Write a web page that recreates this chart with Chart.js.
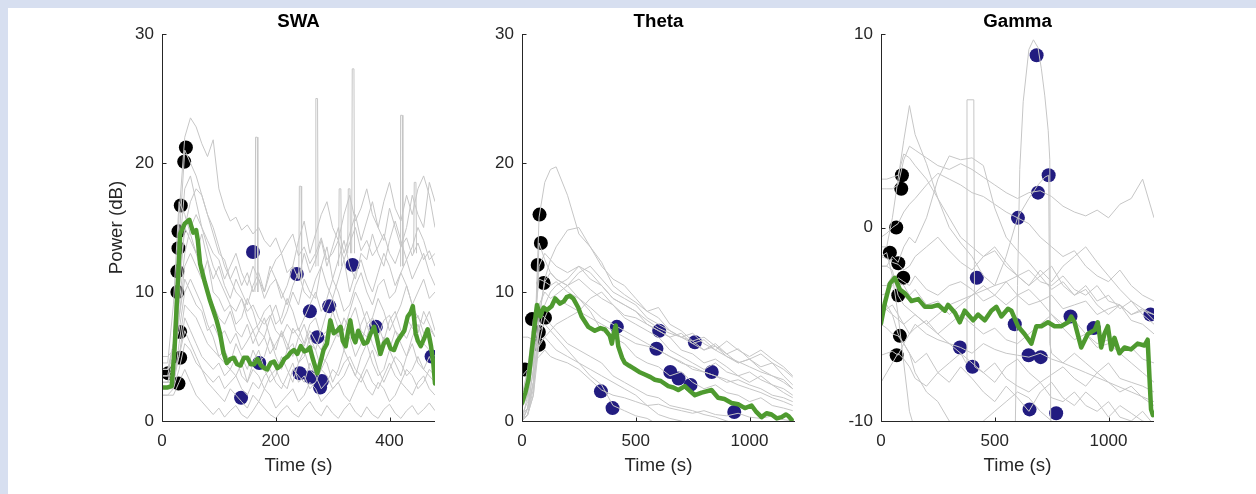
<!DOCTYPE html>
<html>
<head>
<meta charset="utf-8">
<script src="https://cdn.jsdelivr.net/npm/chart.js@4.4.0/dist/chart.umd.min.js"></script>
<style>
html,body{margin:0;padding:0;width:1256px;height:494px;overflow:hidden;background:#d7dff0;}
#panel{position:absolute;left:8px;top:8px;width:1248px;height:486px;background:#ffffff;}
canvas{position:absolute;top:0;}
</style>
</head>
<body>
<div id="panel"></div>
<canvas id="c1" width="360" height="494" style="left:92px"></canvas>
<canvas id="c2" width="360" height="494" style="left:452px"></canvas>
<canvas id="c3" width="360" height="494" style="left:811px"></canvas>
<script>
// ---------------- SWA ----------------
const swaXTicks = [0, 200, 400];
const swaYTicks = [0, 10, 20, 30];
const swaTimes = [0,10,20,30,40,50,60,70,80,90,100,110,120,130,140,150,160,170,180,190,200,210,220,230,240,250,260,270,280,290,300,310,320,330,340,350,360,370,380,390,400,410,420,430,440,450,460,470,480];
const swaG1 = [3.5,3.5,6,16,22,23.5,22.8,21.5,20.5,21.8,18,16.5,15.5,15.8,14.8,15.2,14.5,15,14,13.5,14.2,13,13.8,14.5,12.8,13.5,12.2,13,14.2,12.5,13,14,12.5,13.8,15,13.2,14,12.8,13.5,14.5,13,12.2,13.5,14.2,12.8,13.8,12.5,13.2,12];
const swaG2 = [3,3,5,14,21,20,19,17.5,16,15,13.5,12,11,10,9.5,8.5,9,8,7.5,8.2,7,6.5,7.5,6.8,7.2,6,7.5,8,6.5,7,8.5,7.2,6,7.8,8.8,7,6.5,8,7.4,6.2,7.8,8.5,7,6.4,7.5,8.2,6.8,7.2,6.5];
const swaG3 = [4,4,5,11,15,14,13,14.5,12.5,11,12,10.5,9.5,11,10,9,10.5,11.5,10,12,11,9.5,10.5,12,11,13,11.5,12.5,14,12,13.5,15,13,14.5,16,14,15.5,17,15,14,16.5,15,13.5,15,17.5,16,15,18.5,17];
const swaG4 = [2,2,2.5,6,9,8.5,8,7,6,5.5,5,4.5,4,3.5,4.5,3,4,3.5,2.5,3.5,4,3,2.5,4,3.5,3,4.5,3.5,2.5,3,4,3.5,4.5,5,4,3.5,4.5,5.5,4,3,4,5,4.5,3.5,4,5,4,3.5,3];
const swaG5 = [3,3,3,5,7,6,5,4,3,2.5,2,1.5,2.5,2,1.5,1,2,1.5,2.5,2,1,1.5,2,2.5,1.5,2,3,2.5,1.5,2,2.5,3,2,1.5,2.5,3.5,2.5,2,3,2.5,1.5,2,3,2.5,2,3,3.5,2.5,2];
const swaG6 = [4.5,4.5,9,17,16,14.5,13,11.5,10,9,8,7.5,8.5,7,6.5,7.5,6,7,8,6.5,5.5,7,6,5,6.5,7.5,6,5.5,7,8.5,9.5,8,7,8.5,10,9,7.5,8,9.5,8.5,7,8,9,10.5,9,8,7.5,8.5,7];
const swaG7 = [3,3,4,8,12,13,12,11,12.5,10,9.5,8.5,9,7.5,8,9.5,8.5,7,6.5,8,9,7.5,8.5,10,9,11,10,9.5,12,13.5,11,12.5,14,12,11,13,12.5,14.5,13,12,14,15.5,14,12.5,13.5,15,14,12.5,13];
const swaG8 = [5,5,5.5,7,10,11,10,9,7.5,6.5,5,5.5,4.5,6,5,4,5.5,4.5,5,6.5,5,4,5.5,6,4.5,5,6.5,5.5,4,5,6,7,5.5,6.5,5,6,7.5,6,5,6.5,5.5,7,6,5,6.5,7.5,6,5.5,5];
const swaG9 = [4,4,6,13,18,19,17,15,14,13,12.5,11,12,13,11.5,10.5,12,11,10,11.5,12.5,13,11.5,12,14,15.5,13,14.5,16,17,15,14,16,17.5,15.5,16.5,18,16,15,17,18.5,16.5,15.5,17.5,16,18,19,17.5,15];
const swaG10 = [2.5,2.5,2.5,4,6,5.5,4.5,4,3.5,3,3.5,2.5,3,3.5,2.5,2,3,2.5,3.5,4,3,2.5,3.5,4.5,3,3.5,2.5,3,4,3.5,2.5,3,3.5,4.5,3.5,3,4,3,2.5,3.5,4.5,3.5,3,4,3.5,2.5,3,4,3.5];
const swaG11 = [3.5,3.5,4,9,13,15,16,15,13.5,12,11,10,9,8.5,9.5,8,7,7.5,8.5,9,7.5,8,9.5,8.5,7,8,9,10,8.5,9.5,11,10,8.5,9,10.5,11.5,10,9,10.5,11,9.5,10,11.5,10.5,9,10,11,9.5,10];
const swaG12 = [2,2,2,3,4,3,2,1.5,1,0.5,1,0.3,0.8,1.2,0.5,0.2,0.8,1.5,1,0.5,0.2,0.8,1.2,0.6,0.3,1,1.5,0.8,0.4,1.2,0.6,0.2,0.9,1.4,0.7,0.3,1.1,0.5,0.2,0.9,1.3,0.6,0.2,0.8,1.2,0.5,0.9,1.4,0.8];
const swaG13 = [4,4,4.5,8,11,10,9,8.5,7,7.5,6.5,7,6,6.8,5.5,6.2,7,5.8,6.5,5.2,6,6.8,5.5,7.2,6.5,5.8,7,6.2,5.5,6.8,7.5,6.5,8,7,6.2,7.5,8.5,7.2,6.5,7.8,8.2,7,6.5,8,7.2,6.8,8.5,7.5,6.5];
const swaG14 = [3,3,3.5,10,15,17,18,17.5,16,14.5,13,12.5,11,12,10.5,11.5,10,11,9.5,10.5,11,10,9,10.5,11.5,10,9.5,11,12,10.5,9.5,11,12.5,10,11.5,12.5,11,10,11.5,13,12,10.5,11.5,12.5,11,12,13,11.5,10.5];
const swaG15 = [3.5,3.5,3.5,5,8,7,6,5,4.5,4,4.5,3.5,4,5,3.5,3,4.5,5.5,4,3,3.5,5,4,3,4.5,5.5,4,3.5,5,4.5,3,4,5.5,4.5,3.5,5,6,4.5,3.5,4,5.5,4.5,3.5,5,6,4.5,4,5,4];
const swaSpikeT = [166,243,272,313,329,336,421,445];
const swaSpikeBase = [10,11,12,12,13,13,12,13];
const swaSpikePeak = [22,18.2,25,18,18,27.3,23.7,18.5];
const swaMeanT = [0,10,17,22,27,32,40,48,55,60,63,67,75,84,90,96,102,108,114,120,126,132,138,144,150,156,162,168,174,180,185,191,197,203,209,215,221,226,232,238,244,250,256,260,264,268,273,277,280,284,290,296,302,308,314,318,323,327,331,336,340,345,349,355,361,367,373,378,384,390,396,402,408,414,420,426,432,437,441,446,450,455,461,467,470,473,477,480];
const swaMeanV = [2.6,2.6,2.7,5.5,10,14.5,15.3,15.6,14.6,14.8,14.0,12.2,10.8,9.4,8.6,7.8,6.8,5.3,4.5,4.8,4.9,4.4,4.3,4.9,4.9,4.4,4.4,4.8,4.3,4.1,4.0,4.5,4.6,4.1,4.3,4.8,5.0,5.3,5.5,5.2,5.8,5.4,5.5,5.7,5.0,4.4,3.7,4.3,4.8,5.5,6.0,7.8,6.8,7.0,7.3,6.2,5.8,6.9,7.8,6.5,6.1,7.0,6.6,6.0,6.1,6.8,7.3,6.4,5.2,6.0,6.3,5.6,5.5,6.2,6.6,7.0,8.1,8.4,8.9,6.8,6.2,5.8,6.4,7.1,6.5,5.8,4.5,2.9];
const swaStartT = [42,39,33,29,29,27,27,32,32,11,29];
const swaStartV = [21.2,20.1,16.7,14.7,13.4,11.6,10.0,6.9,4.9,3.7,2.9];
const swaEndT = [160,237,335,260,294,273,376,171,242,261,281,278,139,474];
const swaEndV = [13.1,11.4,12.1,8.5,8.9,6.5,7.3,4.5,3.7,3.4,3.1,2.6,1.8,5.0];

// ---------------- Theta ----------------
const thetaXTicks = [0, 500, 1000];
const thetaYTicks = [0, 10, 20, 30];
const thetaTimes = [0,25,50,75,100,125,150,200,250,300,350,400,450,500,550,600,650,700,750,800,850,900,950,1000,1050,1100,1150,1190];
const thG1 = [0.5,1,3,15.8,18.5,19.5,19.7,17.5,14.5,13.5,12.3,10.5,9.8,9.2,8.5,8.8,7.5,7.0,6.2,6.5,5.8,5.2,5.6,4.8,5.2,4.5,4.0,3.4];
const thG2 = [0,0.5,2,8,11,12.5,13.5,14.8,15,13.5,12,11,10.5,9.5,8.5,8,7,6.5,6.2,5.5,5.8,5,4.5,4.8,4,3.5,3,2.5];
const thG3 = [0,1,4,13.8,12.5,11.5,11,10.5,9.5,8.5,7,6.5,6,5,4.5,4.2,3.5,3.8,3,2.5,2.8,2.2,2,1.5,1.8,1.2,1,0.8];
const thG4 = [0.5,1.5,5,12,13,12.5,12,11.5,12,11,10.5,9.5,9,8.5,7.5,7,6.5,5.5,5.2,4.5,4.8,4.2,3.5,3.8,3.2,2.8,2.5,2];
const thG5 = [1,2,7,11,10.8,10.5,10.8,10,9.5,8.8,8,7.5,7,6.5,6,5.5,5,4.6,4,3.8,3.5,3,3.2,2.8,2.5,2,1.8,1.5];
const thG6 = [0,0.5,3,8,10.8,11.5,11,10.5,11,10.2,9.5,9,8.2,8,7.5,7,6.5,6.8,6,5.5,6,5.2,4.5,4.8,4.2,4.5,3.5,2.8];
const thG7 = [2,4,7.9,8.5,8,7.5,7,6,5.5,5,4.5,3.5,3,2.5,2,1.8,1.2,1,0.8,0.5,0.3,0,-0.3,-0.5,-0.5,-0.5,-0.5,-0.5];
const thG8 = [0,2,5,7,7.5,7,6.5,5.5,4.5,3.5,2.8,1.2,0.8,0.4,0.2,-0.3,-0.5,-0.5,-0.5,-0.5,-0.5,-0.5,-0.5,-0.5,-0.5,-0.5,-0.5,-0.5];
const thG9 = [6.5,6.5,6.3,5.8,6.5,7,7.5,8,8.5,8,7.5,7,6.5,6,5.8,5.5,5,4.5,4.2,3.8,3.5,3.2,2.8,2.5,2.2,1.8,1.5,1.2];
const thG10 = [3.5,4,4.5,5,5.5,5,4.8,4.5,4,3.2,2.4,2,1.8,1.5,1.2,1.3,1,0.8,0.6,0.8,0.5,0.4,0.6,0.3,0.2,0.4,0.1,0];
const thG11 = [0,1,4,9,10,9.5,9.8,10.5,11.5,12,11,10,9.5,9,8,7.5,7,6.5,6.8,6,5.5,6.2,5.5,5,5.5,4.8,4.2,3.5];
const thG12 = [0,0.5,2,6,8,9,9.5,9,8.5,9.5,10,9,8,7.5,7,6.5,5.5,5,4.5,4,4.5,3.8,3.5,3,3.5,2.8,2.2,1.8];
const thG13 = [0,1,3,6,6.5,6,5.5,5,4.5,4,3.5,3,2.5,2,1.2,0.5,0.2,0,-0.3,-0.5,-0.5,-0.5,-0.5,-0.5,-0.5,-0.5,-0.5,-0.5];
const thG14 = [0,0.5,2.5,7,9,10,10.5,11,12,11.5,10.5,9.5,9,8.5,7.8,7.2,6.8,6.5,6,6.3,5.5,5,4.6,4.2,3.8,3.5,3.2,2.5];
const thMeanT = [0,15,28,40,50,60,66,80,95,110,130,146,167,185,196,210,225,247,262,291,320,345,364,386,395,403,412,423,440,452,470,489,515,540,565,584,610,643,665,687,716,740,760,790,833,862,890,921,950,980,1009,1030,1053,1075,1097,1120,1141,1160,1170,1185];
const thMeanV = [1.4,2.2,3.2,5.0,6.5,8.2,9.0,8.1,8.8,8.6,8.9,9.5,9.1,9.3,9.6,9.7,9.5,8.8,8.1,7.3,7.0,7.2,7.1,6.6,6.0,6.8,7.4,5.8,4.9,4.5,4.3,4.1,3.8,3.6,3.4,3.2,3.1,2.7,2.6,2.4,2.7,2.3,2.0,2.2,2.4,1.8,1.7,1.4,1.3,1.0,1.2,0.7,0.3,0.6,0.5,0.2,0.3,0.5,0.4,0.1];
const thStartT = [77,83,69,95,44,101,74,74,13];
const thStartV = [16.0,13.8,12.1,10.7,7.9,8.0,6.9,5.9,4.0];
const thEndT = [417,603,591,760,652,688,741,834,347,398,933];
const thEndV = [7.3,7.0,5.6,6.1,3.8,3.3,2.8,3.8,2.3,1.0,0.7];

// ---------------- Gamma ----------------
const gammaXTicks = [0, 500, 1000];
const gammaYTicks = [-10, 0, 10];
const gammaTimes = [0,25,50,75,100,125,150,200,250,300,350,400,450,500,550,600,650,700,750,800,850,900,950,1000,1050,1100,1150,1200];
const gmG1 = [2,2,2,2.2,3.5,4.2,4.0,3.6,3.2,3.0,3.3,3.0,2.6,2.2,1.8,1.5,1.8,1.9,1.6,1.1,0.8,0.6,0.9,0.5,1.2,1.5,2.5,0.5];
const gmG2 = [-1,-1,0.5,2.5,4.5,6.3,4.8,3.3,1.5,0,-0.8,-1.5,-2.5,-3,-2.8,-3.5,-4,-3.8,-4.5,-5,-4.8,-5.5,-6,-5.8,-6.5,-7,-7.5,-8];
const gmG5 = [2.5,2.5,2.6,2.7,3.8,3.6,3.2,2.5,1.5,0.5,-0.5,-1,-1.5,-1.2,-2,-2.5,-2.2,-2.8,-3,-2.5,-3.2,-3.5,-3,-3.8,-4,-4.5,-4.2,-4.8];
const gmG6 = [-2,-2,-1.5,-1.8,-1,-0.5,-0.8,0.5,2.5,3.7,3.5,3.6,3.2,1,-0.5,-1.2,-1.8,-2.5,-2,-3,-3.5,-3.2,-4,-4.5,-4,-4.8,-5,-5.5];
const gmG7 = [-3,-3,-2.5,-2.8,-3,-3.5,-3.2,-4,-3.8,-4.5,-4,-3.5,-3,-3.5,-2.8,-2.5,-3,-2.2,-2.8,-2,-1.5,-1,-1.8,-2.5,-3.2,-3.8,-4.2,-4.5];
const gmG8 = [-4,-4,-4.5,-5.5,-6,-6.5,-7,-6.5,-7.5,-8,-7.2,-7.8,-8.5,-9,-8.2,-8.8,-9.5,-8.5,-8,-8.8,-9.2,-8.5,-9,-9.8,-9.2,-9.6,-10,-10.2];
const gmG9 = [-0.5,-0.3,0,0.2,0.8,1.2,1.5,2.2,2.8,2.5,2.2,1.8,1.6,1.2,0.8,0.5,0.2,-0.5,-1,-1.5,-1.2,-2,-2.5,-2.8,-2.2,-3,-3.5,-3.8];
const gmG10 = [-5,-5.2,-5.5,-5.6,-6,-6.5,-7.5,-8.5,-9,-10,-10.5,-10.5,-10,-9.5,-9,-8.5,-8.8,-9.5,-10,-10.5,-10.5,-10.5,-10.5,-10.5,-10.5,-10.5,-10.5,-10.5];
const gmG11 = [-6.6,-6.5,-6.4,-6.6,-6,-5.5,-5,-5.5,-5.8,-6,-6.2,-6.5,-6,-6.3,-6.5,-6.6,-6.7,-6.5,-6.8,-7,-6.5,-7,-7.5,-7,-7.8,-8,-8.2,-8.5];
const gmG12 = [-3.5,-3.4,-3,-2.6,-2.8,-3,-2.5,-3.2,-3.5,-3,-2.8,-3.2,-3.8,-3.5,-4,-3.5,-3.2,-3.8,-3.5,-4.2,-4,-3.8,-4.5,-4.2,-4,-4.5,-4.3,-4.5];
const gmG13 = [-1.5,-1.6,-1.8,-1.9,-2.2,-2,-1.5,-1,-0.5,-1.2,-1.8,-2.2,-1.5,-1,-1.8,-2.5,-3,-2.5,-3.2,-2.8,-3.5,-3,-3.8,-3.5,-4.2,-3.8,-4.5,-5];
const gmG14 = [-8,-7.5,-7,-6.5,-6.8,-7.2,-7.8,-8.2,-7.5,-7,-6.5,-7,-7.5,-8,-7.2,-6.8,-7.5,-8,-7.6,-7.2,-7.8,-8.2,-7.5,-8,-8.5,-8.2,-8.8,-9.2];
const gmG15 = [-4.5,-4.2,-4,-4.5,-5,-5.5,-5.2,-4.8,-5.5,-5,-4.5,-5,-5.5,-5.2,-5.8,-6,-5.5,-5,-4.5,-5.2,-5.8,-5.5,-6.2,-6,-6.5,-6.2,-6.8,-7];
const gmPeakT = [0,25,50,75,100,125,150,590,600,610,625,650,670,690,705,720,735,742,746,1200];
const gmPeakV = [-1.5,-1.3,-2.5,-4.5,-7,-9.5,-10.5,-10.5,-3,3,6.5,9.2,9.7,9.3,8.2,6.8,5,3.5,-10.5,-10.5];
const gmRectT = [0,25,50,75,100,150,200,250,300,350,374,378,408,412,450,500,550,600,650,700,750,800,850,900,950,1000,1050,1100,1150,1200];
const gmRectV = [-2,-2,-2.2,-3.5,-4,-4.5,-5,-5.5,-6,-6.5,-7,6.6,6.6,-7.2,-7.5,-7,-7.8,-8.2,-8.5,-8,-8.8,-9,-8.5,-9.2,-9.5,-9,-9.8,-10,-9.5,-10.2];
const gmHumpT = [0,50,100,150,200,300,400,500,550,600,650,690,720,737,742,750,800,900,1000,1100,1200];
const gmHumpV = [-4,-4.5,-5,-4.5,-5,-4,-3.5,-3,-1.5,0.5,1.5,2.2,2.6,2.7,-6,-6.5,-7,-7.5,-8,-8.5,-9];
const gmMeanT = [0,17,39,61,83,105,120,134,164,193,222,251,281,295,325,346,368,405,427,456,485,507,529,558,573,602,631,661,683,705,734,763,792,822,836,851,880,909,939,953,968,982,997,1012,1026,1048,1070,1099,1128,1158,1172,1187,1195];
const gmMeanV = [-4.95,-3.9,-2.9,-2.6,-3.2,-3.4,-3.6,-3.8,-3.7,-4.1,-4.1,-4.0,-4.3,-4.0,-4.4,-4.9,-4.3,-4.8,-4.5,-4.8,-4.3,-4.1,-4.6,-4.2,-4.3,-5.1,-5.5,-6.0,-5.1,-5.1,-4.9,-5.1,-5.1,-4.9,-4.6,-4.9,-6.2,-5.5,-5.3,-4.9,-6.2,-5.5,-5.1,-6.3,-5.7,-6.5,-6.2,-6.3,-6.0,-6.1,-5.8,-9.4,-9.7];
const gmStartT = [92,89,67,39,76,98,76,83,69];
const gmStartV = [2.7,2.0,0.0,-1.3,-1.85,-2.6,-3.5,-5.6,-6.6];
const gmEndT = [684,737,690,602,421,588,833,935,1184,347,402,649,702,653,770];
const gmEndV = [8.9,2.7,1.8,0.5,-2.6,-5.0,-4.6,-5.2,-4.5,-6.2,-7.2,-6.6,-6.7,-9.4,-9.6];

// ---------------- drawing ----------------
const FONT = '"Liberation Sans", Arial, Helvetica, sans-serif';
const AXIS = '#262626';
const GRAY = '#c6c6c6';
const GREEN = '#4e9a2f';
const NAVY = '#221c80';
Chart.defaults.font.family = FONT;

function pts(ts, vs) { return ts.map((t, i) => ({x: t, y: vs[i]})); }
function spikePts(t, base, peak) {
  return [{x: t - 2.5, y: base}, {x: t - 1.5, y: peak}, {x: t + 1.5, y: peak}, {x: t + 2.5, y: base}];
}

const axesPlugin = {
  id: 'matlabAxes',
  afterDatasetsDraw(chart) {
    const {ctx, chartArea: a, scales: {x, y}} = chart;
    ctx.save();
    ctx.strokeStyle = AXIS;
    ctx.lineWidth = 1;
    ctx.beginPath();
    const lx = Math.round(a.left) + 0.5, by = Math.round(a.bottom) + 0.5;
    ctx.moveTo(lx, Math.round(a.top)); ctx.lineTo(lx, by);
    ctx.moveTo(lx, by); ctx.lineTo(Math.round(a.right), by);
    y.ticks.forEach(t => { const p = Math.round(y.getPixelForValue(t.value)) + 0.5; ctx.moveTo(lx, p); ctx.lineTo(lx + 4, p); });
    x.ticks.forEach(t => { const p = Math.round(x.getPixelForValue(t.value)) + 0.5; ctx.moveTo(p, by); ctx.lineTo(p, by - 4); });
    ctx.stroke();
    ctx.restore();
  }
};

function makePanel(id, o) {
  const ds = [];
  o.gray.forEach(([ts, vs]) => ds.push({data: pts(ts, vs), borderColor: GRAY, borderWidth: 1, pointRadius: 0, order: 2}));
  (o.spikes || []).forEach(p => ds.push({data: p, borderColor: GRAY, borderWidth: 1, pointRadius: 0, order: 2}));
  ds.push({data: pts(o.meanT, o.meanV), borderColor: GREEN, borderWidth: 4.5, pointRadius: 0, order: 1,
           borderJoinStyle: 'round', borderCapStyle: 'round'});
  ds.push({data: pts(o.startT, o.startV), showLine: false, pointRadius: 7, pointBackgroundColor: '#000000',
           pointBorderWidth: 0, order: 3});
  ds.push({data: pts(o.endT, o.endV), showLine: false, pointRadius: 7, pointBackgroundColor: NAVY,
           pointBorderWidth: 0, order: 3});
  new Chart(document.getElementById(id), {
    type: 'line',
    data: {datasets: ds},
    plugins: [axesPlugin],
    options: {
      responsive: false, animation: false, devicePixelRatio: 1, events: [],
      layout: {padding: {left: 0, right: 17, top: 0, bottom: 0}},
      plugins: {
        legend: {display: false}, tooltip: {enabled: false},
        title: {display: true, text: o.title, fullSize: false, color: '#000000',
                font: {family: FONT, size: 18.7, weight: 'bold', lineHeight: 1.2},
                padding: {top: 10.3, bottom: 1.26}}
      },
      scales: {
        x: {
          type: 'linear', min: o.xMin, max: o.xMax,
          afterBuildTicks: s => { s.ticks = o.xTicks.map(v => ({value: v})); },
          afterFit: s => { s.height = 73; },
          grid: {display: false, drawTicks: false}, border: {display: false},
          ticks: {color: AXIS, font: {family: FONT, size: 17}, padding: 10, maxRotation: 0, autoSkip: false,
                  callback: v => String(v)},
          title: {display: true, text: 'Time (s)', color: AXIS, font: {family: FONT, size: 18.7, lineHeight: 1.2},
                  padding: {top: 0, bottom: 17}}
        },
        y: {
          type: 'linear', min: o.yMin, max: o.yMax,
          afterBuildTicks: s => { s.ticks = o.yTicks.map(v => ({value: v})); },
          afterFit: s => { s.width = 70; },
          grid: {display: false, drawTicks: false}, border: {display: false},
          ticks: {color: AXIS, font: {family: FONT, size: 17}, padding: 8, autoSkip: false,
                  callback: v => String(v)},
          title: {display: !!o.yTitle, text: o.yTitle || '', color: AXIS, font: {family: FONT, size: 18.7, lineHeight: 1.2},
                  padding: {top: 13.3, bottom: 0}}
        }
      }
    }
  });
}

makePanel('c1', {
  title: 'SWA', yTitle: 'Power (dB)', xMin: 0, xMax: 480, yMin: 0, yMax: 30,
  xTicks: swaXTicks, yTicks: swaYTicks,
  gray: [swaG1, swaG2, swaG3, swaG4, swaG5, swaG6, swaG7, swaG8, swaG9, swaG10, swaG11, swaG12, swaG13, swaG14, swaG15].map(v => [swaTimes, v]),
  spikes: swaSpikeT.map((t, i) => spikePts(t, swaSpikeBase[i], swaSpikePeak[i])),
  meanT: swaMeanT, meanV: swaMeanV,
  startT: swaStartT, startV: swaStartV, endT: swaEndT, endV: swaEndV
});
makePanel('c2', {
  title: 'Theta', xMin: 0, xMax: 1200, yMin: 0, yMax: 30,
  xTicks: thetaXTicks, yTicks: thetaYTicks,
  gray: [thG1, thG2, thG3, thG4, thG5, thG6, thG7, thG8, thG9, thG10, thG11, thG12, thG13, thG14].map(v => [thetaTimes, v]),
  meanT: thMeanT, meanV: thMeanV,
  startT: thStartT, startV: thStartV, endT: thEndT, endV: thEndV
});
makePanel('c3', {
  title: 'Gamma', xMin: 0, xMax: 1200, yMin: -10, yMax: 10,
  xTicks: gammaXTicks, yTicks: gammaYTicks,
  gray: [gmG1, gmG2, gmG5, gmG6, gmG7, gmG8, gmG9, gmG10, gmG11, gmG12, gmG13, gmG14, gmG15].map(v => [gammaTimes, v])
        .concat([[gmPeakT, gmPeakV], [gmRectT, gmRectV], [gmHumpT, gmHumpV]]),
  meanT: gmMeanT, meanV: gmMeanV,
  startT: gmStartT, startV: gmStartV, endT: gmEndT, endV: gmEndV
});
</script>
</body>
</html>
